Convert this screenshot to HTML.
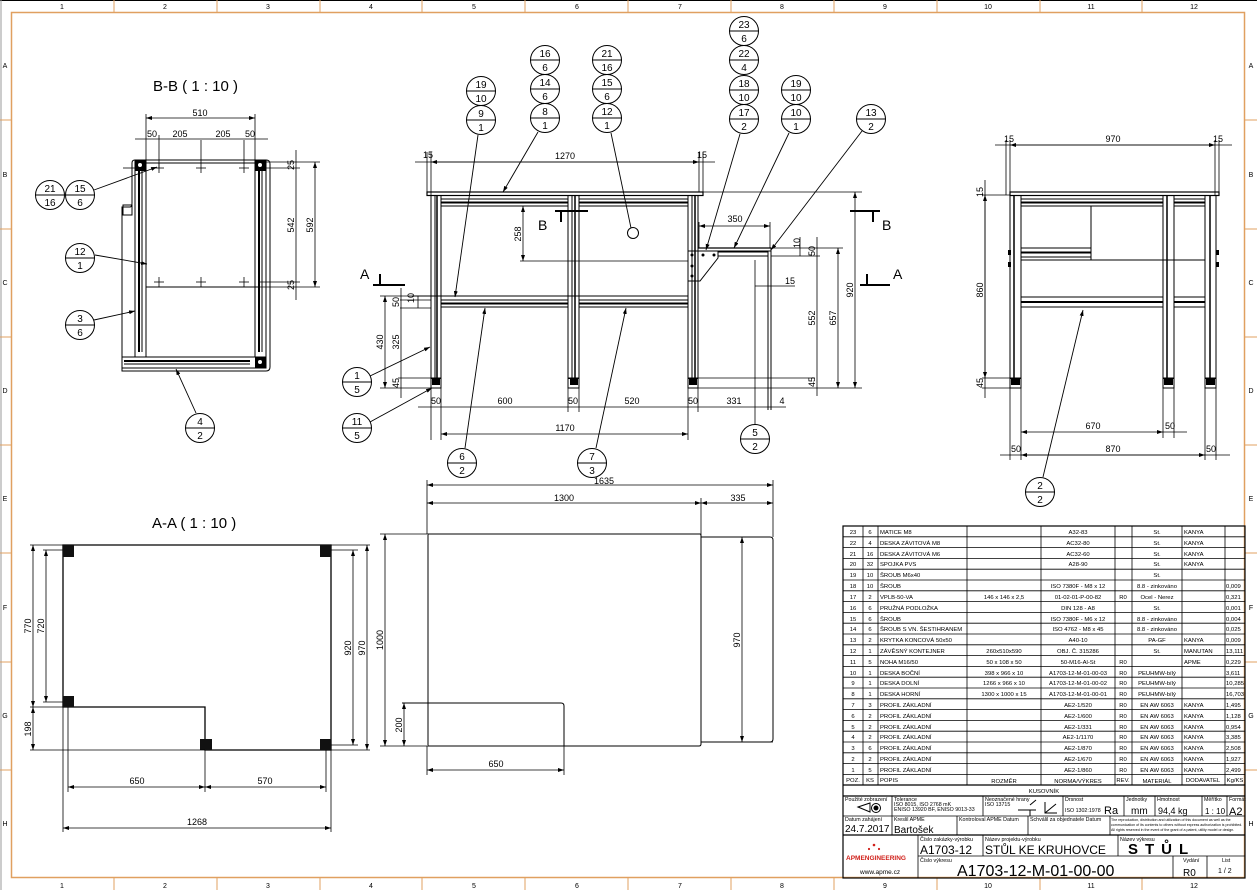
<!DOCTYPE html>
<html><head><meta charset="utf-8"><style>
html,body{margin:0;padding:0;background:#fff}
svg{display:block}
text{font-family:"Liberation Sans",sans-serif;fill:#000}
.d{font-size:9px}
.t{font-size:5.9px}
.s{font-size:5.3px}
.z{font-size:7px;fill:#bbb}
</style></head><body>
<svg width="1257" height="890" viewBox="0 0 1257 890" xmlns="http://www.w3.org/2000/svg">
<defs>
<marker id="a" markerWidth="6" markerHeight="4" refX="6" refY="2" orient="auto-start-reverse" markerUnits="userSpaceOnUse"><path d="M0,0L6,2L0,4z" fill="#000"/></marker>
</defs>
<rect width="1257" height="890" fill="#fff"/>
<!-- frame -->
<line x1="0" y1="0.5" x2="1257" y2="0.5" stroke="#000"/>
<line x1="1" y1="0" x2="1" y2="890" stroke="#999"/>
<rect x="11.5" y="12.5" width="1233" height="865" fill="none" stroke="#e0a060" stroke-width="1.5"/>
<g stroke="#e0a060" stroke-width="1">
<line x1="114" y1="0" x2="114" y2="12"/><line x1="217" y1="0" x2="217" y2="12"/><line x1="320" y1="0" x2="320" y2="12"/><line x1="422" y1="0" x2="422" y2="12"/><line x1="525" y1="0" x2="525" y2="12"/><line x1="628" y1="0" x2="628" y2="12"/><line x1="731" y1="0" x2="731" y2="12"/><line x1="834" y1="0" x2="834" y2="12"/><line x1="937" y1="0" x2="937" y2="12"/><line x1="1040" y1="0" x2="1040" y2="12"/><line x1="1142" y1="0" x2="1142" y2="12"/>
<line x1="114" y1="878" x2="114" y2="890"/><line x1="217" y1="878" x2="217" y2="890"/><line x1="320" y1="878" x2="320" y2="890"/><line x1="422" y1="878" x2="422" y2="890"/><line x1="525" y1="878" x2="525" y2="890"/><line x1="628" y1="878" x2="628" y2="890"/><line x1="731" y1="878" x2="731" y2="890"/><line x1="834" y1="878" x2="834" y2="890"/><line x1="937" y1="878" x2="937" y2="890"/><line x1="1040" y1="878" x2="1040" y2="890"/><line x1="1142" y1="878" x2="1142" y2="890"/>
<line x1="0" y1="120" x2="11" y2="120"/><line x1="0" y1="229" x2="11" y2="229"/><line x1="0" y1="337" x2="11" y2="337"/><line x1="0" y1="445" x2="11" y2="445"/><line x1="0" y1="553" x2="11" y2="553"/><line x1="0" y1="662" x2="11" y2="662"/><line x1="0" y1="770" x2="11" y2="770"/>
<line x1="1245" y1="120" x2="1257" y2="120"/><line x1="1245" y1="229" x2="1257" y2="229"/><line x1="1245" y1="337" x2="1257" y2="337"/><line x1="1245" y1="445" x2="1257" y2="445"/><line x1="1245" y1="553" x2="1257" y2="553"/><line x1="1245" y1="662" x2="1257" y2="662"/><line x1="1245" y1="770" x2="1257" y2="770"/>
</g>
<g class="z" text-anchor="middle">
<text x="62" y="9">1</text><text x="165" y="9">2</text><text x="268" y="9">3</text><text x="371" y="9">4</text><text x="474" y="9">5</text><text x="577" y="9">6</text><text x="680" y="9">7</text><text x="782" y="9">8</text><text x="885" y="9">9</text><text x="988" y="9">10</text><text x="1091" y="9">11</text><text x="1194" y="9">12</text>
<text x="62" y="888">1</text><text x="165" y="888">2</text><text x="268" y="888">3</text><text x="371" y="888">4</text><text x="474" y="888">5</text><text x="577" y="888">6</text><text x="680" y="888">7</text><text x="782" y="888">8</text><text x="885" y="888">9</text><text x="988" y="888">10</text><text x="1091" y="888">11</text><text x="1194" y="888">12</text>
<text x="5" y="68">A</text><text x="5" y="177">B</text><text x="5" y="285">C</text><text x="5" y="393">D</text><text x="5" y="501">E</text><text x="5" y="610">F</text><text x="5" y="718">G</text><text x="5" y="826">H</text>
<text x="1251" y="68">A</text><text x="1251" y="177">B</text><text x="1251" y="285">C</text><text x="1251" y="393">D</text><text x="1251" y="501">E</text><text x="1251" y="610">F</text><text x="1251" y="718">G</text><text x="1251" y="826">H</text>
</g>

<!-- ================= B-B view ================= -->
<text x="153" y="91" style="font-size:15px">B-B ( 1 : 10 )</text>
<g fill="none" stroke="#000" stroke-width="1">
<path d="M135,160 H266 Q270,160 270,164 V367 Q270,371 266,371 H122 V207 H130 Q132,207 132,203 V163 Q132,160 135,160Z"/>
<rect x="146" y="163" width="113" height="124"/>
<rect x="135" y="160" width="11" height="197"/><line x1="139" y1="165" x2="139" y2="352" stroke-width="2"/><line x1="142" y1="165" x2="142" y2="352"/>
<rect x="255" y="160" width="11" height="197"/><line x1="259" y1="165" x2="259" y2="352" stroke-width="2"/><line x1="262" y1="165" x2="262" y2="352"/>
<rect x="122" y="357" width="144" height="11"/><line x1="124" y1="361" x2="250" y2="361" stroke-width="2"/><line x1="124" y1="364" x2="250" y2="364"/>
<rect x="123" y="205" width="9" height="10"/>
</g>
<g fill="#000"><rect x="135" y="160" width="11" height="11"/><rect x="255" y="160" width="11" height="11"/><rect x="255" y="357" width="11" height="11"/></g>
<g fill="#fff"><circle cx="140" cy="165" r="2"/><circle cx="260" cy="165" r="2"/><circle cx="260" cy="362" r="2"/></g>
<g stroke="#000" stroke-width="0.8">
<line x1="123" y1="168" x2="134" y2="168"/><line x1="146" y1="168" x2="134" y2="168"/>
<line x1="154" y1="168" x2="164" y2="168"/><line x1="159" y1="163" x2="159" y2="173"/>
<line x1="196" y1="168" x2="206" y2="168"/><line x1="201" y1="140" x2="201" y2="173"/>
<line x1="239" y1="168" x2="249" y2="168"/><line x1="244" y1="140" x2="244" y2="173"/>
<line x1="154" y1="282" x2="164" y2="282"/><line x1="159" y1="277" x2="159" y2="287"/>
<line x1="196" y1="282" x2="206" y2="282"/><line x1="201" y1="277" x2="201" y2="287"/>
<line x1="239" y1="282" x2="249" y2="282"/><line x1="244" y1="277" x2="244" y2="287"/>
<line x1="146" y1="114" x2="146" y2="160"/><line x1="255" y1="114" x2="255" y2="160"/><line x1="159" y1="135" x2="159" y2="168"/>
<line x1="146" y1="118" x2="255" y2="118" marker-start="url(#a)" marker-end="url(#a)"/>
<line x1="135" y1="139" x2="268" y2="139"/>
<line x1="266" y1="162" x2="320" y2="162"/><line x1="266" y1="168" x2="300" y2="168"/><line x1="259" y1="282" x2="300" y2="282"/><line x1="259" y1="287" x2="320" y2="287"/>
<line x1="296" y1="150" x2="296" y2="300"/>
<line x1="315" y1="162" x2="315" y2="287" marker-start="url(#a)" marker-end="url(#a)"/>
</g>
<g class="d" text-anchor="middle"><text x="200" y="116">510</text><text x="152" y="137">50</text><text x="180" y="137">205</text><text x="223" y="137">205</text><text x="250" y="137">50</text></g>
<g class="d" text-anchor="middle"><text transform="translate(294,225) rotate(-90)">542</text><text transform="translate(313,225) rotate(-90)">592</text><text transform="translate(294,165) rotate(-90)">25</text><text transform="translate(294,285) rotate(-90)">25</text></g>

<!-- ================= Front view ================= -->
<g fill="none" stroke="#000" stroke-width="1">
<rect x="427" y="192" width="276" height="3.5" stroke-width="1.2"/>
<rect x="431" y="195.5" width="10" height="183"/><line x1="435" y1="196" x2="435" y2="378"/><line x1="437" y1="196" x2="437" y2="378" stroke-width="1.5"/>
<rect x="568" y="195.5" width="11" height="183"/><line x1="572" y1="196" x2="572" y2="378"/><line x1="575" y1="196" x2="575" y2="378" stroke-width="1.5"/>
<rect x="688" y="195.5" width="10" height="183"/><line x1="692" y1="196" x2="692" y2="378"/><line x1="695" y1="196" x2="695" y2="378" stroke-width="1.5"/>
<rect x="441" y="199" width="127" height="7"/><line x1="441" y1="202.5" x2="568" y2="202.5" stroke-width="2"/>
<rect x="579" y="199" width="109" height="7"/><line x1="579" y1="202.5" x2="688" y2="202.5" stroke-width="2"/>
<rect x="441" y="300" width="127" height="7"/><line x1="441" y1="303.5" x2="568" y2="303.5" stroke-width="2"/>
<rect x="579" y="300" width="109" height="7"/><line x1="579" y1="303.5" x2="688" y2="303.5" stroke-width="2"/>
<line x1="412" y1="296" x2="688" y2="296"/>
<rect x="431" y="378" width="10" height="10"/><rect x="568" y="378" width="11" height="10"/><rect x="688" y="378" width="10" height="10"/>
<line x1="698" y1="248" x2="771" y2="248" stroke-width="1.2"/><line x1="698" y1="251" x2="771" y2="251"/>
<rect x="718" y="252" width="50" height="4"/>
<path d="M688,251 H718 V258 L700,281 H688" />
<line x1="768" y1="251" x2="768" y2="410"/><line x1="771" y1="248" x2="771" y2="410"/>
<circle cx="633" cy="233" r="5.5"/>
</g>
<g fill="#000"><circle cx="692" cy="255" r="1.5"/><circle cx="703" cy="255" r="1.5"/><circle cx="714" cy="255" r="1.5"/><circle cx="692" cy="266" r="1.5"/><circle cx="692" cy="276" r="1.5"/>
<rect x="432" y="379" width="8" height="6"/><rect x="570" y="379" width="8" height="6"/><rect x="689" y="379" width="8" height="6"/></g>
<!-- front dims -->
<g stroke="#000" stroke-width="0.8" fill="none">
<line x1="427" y1="152" x2="427" y2="192"/><line x1="431" y1="152" x2="431" y2="195"/><line x1="699" y1="152" x2="699" y2="192"/><line x1="703" y1="152" x2="703" y2="192"/>
<line x1="415" y1="162" x2="715" y2="162"/><line x1="431" y1="162" x2="699" y2="162" marker-start="url(#a)" marker-end="url(#a)"/>
<line x1="523" y1="206" x2="523" y2="261" marker-start="url(#a)" marker-end="url(#a)"/><line x1="520" y1="261" x2="688" y2="261"/>
<line x1="699" y1="222" x2="699" y2="248"/><line x1="699" y1="226" x2="770" y2="226" marker-start="url(#a)" marker-end="url(#a)"/><line x1="770" y1="222" x2="770" y2="248"/>
<line x1="703" y1="192" x2="862" y2="192"/><line x1="771" y1="248" x2="843" y2="248"/><line x1="771" y1="256" x2="820" y2="256"/>
<line x1="698" y1="378" x2="815" y2="378"/><line x1="698" y1="388" x2="862" y2="388"/>
<line x1="855" y1="192" x2="855" y2="388" marker-start="url(#a)" marker-end="url(#a)"/>
<line x1="838" y1="248" x2="838" y2="388" marker-start="url(#a)" marker-end="url(#a)"/>
<line x1="817" y1="237" x2="817" y2="396"/>
<line x1="800" y1="237" x2="800" y2="256"/>
<line x1="755" y1="286" x2="795" y2="286"/><line x1="755" y1="260" x2="755" y2="425"/>
<line x1="418" y1="296" x2="418" y2="308"/><line x1="416" y1="296" x2="431" y2="296"/><line x1="400" y1="308" x2="431" y2="308"/><line x1="400" y1="300" x2="431" y2="300"/>
<line x1="385" y1="296" x2="385" y2="388" marker-start="url(#a)" marker-end="url(#a)"/><line x1="380" y1="296" x2="431" y2="296"/>
<line x1="401" y1="288" x2="401" y2="398"/>
<line x1="398" y1="378" x2="431" y2="378"/><line x1="380" y1="388" x2="431" y2="388"/>
<line x1="431" y1="388" x2="431" y2="440"/><line x1="441" y1="388" x2="441" y2="440"/><line x1="568" y1="388" x2="568" y2="412"/><line x1="579" y1="388" x2="579" y2="412"/><line x1="688" y1="388" x2="688" y2="440"/><line x1="698" y1="388" x2="698" y2="412"/>
<line x1="418" y1="407" x2="786" y2="407"/>
<line x1="441" y1="434" x2="688" y2="434" marker-start="url(#a)" marker-end="url(#a)"/>
</g>
<g class="d" text-anchor="middle">
<text x="565" y="159">1270</text><text x="428" y="158">15</text><text x="702" y="158">15</text>
<text x="735" y="222">350</text><text x="790" y="284">15</text>
<text x="436" y="404">50</text><text x="505" y="404">600</text><text x="573" y="404">50</text><text x="632" y="404">520</text><text x="693" y="404">50</text><text x="734" y="404">331</text><text x="782" y="404">4</text>
<text x="565" y="431">1170</text>
<text transform="translate(521,234) rotate(-90)">258</text>
<text transform="translate(853,290) rotate(-90)">920</text>
<text transform="translate(836,318) rotate(-90)">657</text>
<text transform="translate(815,318) rotate(-90)">552</text>
<text transform="translate(815,251) rotate(-90)">50</text><text transform="translate(800,243) rotate(-90)">10</text>
<text transform="translate(815,382) rotate(-90)">45</text>
<text transform="translate(383,342) rotate(-90)">430</text>
<text transform="translate(399,342) rotate(-90)">325</text>
<text transform="translate(399,302) rotate(-90)">50</text><text transform="translate(414,298) rotate(-90)">10</text>
<text transform="translate(399,383) rotate(-90)">45</text>
</g>
<!-- section markers -->
<g stroke="#000" fill="none"><path d="M555,211 H588 M561,211 V222" stroke-width="2"/><path d="M850,211 H880 M873,211 V222" stroke-width="2"/>
<path d="M373,285 H405 M380,285 V274" stroke-width="2"/><path d="M860,285 H890 M867,285 V274" stroke-width="2"/></g>
<g style="font-size:14px"><text x="538" y="230">B</text><text x="882" y="230">B</text><text x="360" y="279">A</text><text x="893" y="279">A</text></g>

<!-- ================= Side view ================= -->
<g fill="none" stroke="#000" stroke-width="1">
<rect x="1010" y="192" width="209" height="3.5" stroke-width="1.2"/>
<rect x="1010" y="195.5" width="11" height="183"/><line x1="1014" y1="196" x2="1014" y2="378" stroke-width="1.5"/>
<rect x="1163" y="195.5" width="11" height="183"/><line x1="1167" y1="196" x2="1167" y2="378" stroke-width="1.5"/>
<rect x="1205" y="195.5" width="11" height="183"/><line x1="1210" y1="196" x2="1210" y2="378" stroke-width="1.5"/>
<rect x="1021" y="199" width="142" height="7"/><line x1="1021" y1="202.5" x2="1163" y2="202.5" stroke-width="2"/>
<rect x="1174" y="199" width="31" height="7"/><line x1="1174" y1="202.5" x2="1205" y2="202.5" stroke-width="2"/>
<rect x="1021" y="206" width="70" height="54"/><line x1="1091" y1="260" x2="1205" y2="260"/>
<rect x="1021" y="248" width="70" height="9"/><line x1="1021" y1="252.5" x2="1091" y2="252.5" stroke-width="2"/>
<rect x="1021" y="297" width="142" height="10"/><line x1="1021" y1="302" x2="1163" y2="302" stroke-width="2"/>
<rect x="1174" y="297" width="31" height="10"/><line x1="1174" y1="302" x2="1205" y2="302" stroke-width="2"/>
<rect x="1010" y="378" width="11" height="10"/><rect x="1163" y="378" width="11" height="10"/><rect x="1205" y="378" width="11" height="10"/>
</g>
<g fill="#000"><rect x="1011" y="379" width="9" height="6"/><rect x="1164" y="379" width="9" height="6"/><rect x="1206" y="379" width="9" height="6"/>
<rect x="1008" y="250" width="3" height="5"/><rect x="1008" y="262" width="3" height="5"/><rect x="1216" y="250" width="3" height="5"/><rect x="1216" y="262" width="3" height="5"/></g>
<g stroke="#000" stroke-width="0.8" fill="none">
<line x1="1010" y1="140" x2="1010" y2="192"/><line x1="1219" y1="140" x2="1219" y2="192"/><line x1="1006" y1="140" x2="1006" y2="195"/><line x1="1215" y1="140" x2="1215" y2="195"/>
<line x1="995" y1="145" x2="1232" y2="145"/><line x1="1010" y1="145" x2="1215" y2="145" marker-start="url(#a)" marker-end="url(#a)"/>
<line x1="985" y1="180" x2="985" y2="398"/><line x1="985" y1="195" x2="985" y2="378" marker-start="url(#a)" marker-end="url(#a)"/>
<line x1="982" y1="195" x2="1010" y2="195"/><line x1="982" y1="378" x2="1010" y2="378"/><line x1="982" y1="388" x2="1010" y2="388"/>
<line x1="1010" y1="388" x2="1010" y2="460"/><line x1="1021" y1="388" x2="1021" y2="460"/><line x1="1163" y1="388" x2="1163" y2="438"/><line x1="1174" y1="388" x2="1174" y2="438"/><line x1="1205" y1="388" x2="1205" y2="460"/><line x1="1216" y1="388" x2="1216" y2="460"/>
<line x1="1021" y1="432" x2="1163" y2="432" marker-start="url(#a)" marker-end="url(#a)"/><line x1="1163" y1="432" x2="1187" y2="432"/>
<line x1="1000" y1="455" x2="1230" y2="455"/><line x1="1021" y1="455" x2="1205" y2="455" marker-start="url(#a)" marker-end="url(#a)"/>
</g>
<g class="d" text-anchor="middle">
<text x="1113" y="142">970</text><text x="1009" y="142">15</text><text x="1218" y="142">15</text>
<text x="1093" y="429">670</text><text x="1170" y="429">50</text>
<text x="1016" y="452">50</text><text x="1113" y="452">870</text><text x="1211" y="452">50</text>
<text transform="translate(983,290) rotate(-90)">860</text>
<text transform="translate(983,192) rotate(-90)">15</text>
<text transform="translate(983,383) rotate(-90)">45</text>
</g>

<!-- ================= A-A view ================= -->
<text x="152" y="528" style="font-size:15px">A-A ( 1 : 10 )</text>
<path d="M63,545 H331 V750 H205 V707 H63 Z" fill="none" stroke="#000" stroke-width="1.3"/>
<g fill="#111"><rect x="63" y="545" width="11" height="12"/><rect x="320" y="545" width="11" height="12"/><rect x="63" y="696" width="11" height="11"/><rect x="200" y="739" width="12" height="11"/><rect x="320" y="739" width="11" height="11"/></g>
<g stroke="#000" stroke-width="0.8" fill="none">
<line x1="30" y1="545" x2="63" y2="545"/><line x1="43" y1="550" x2="63" y2="550"/><line x1="30" y1="707" x2="63" y2="707"/><line x1="30" y1="750" x2="205" y2="750"/><line x1="43" y1="702" x2="63" y2="702"/>
<line x1="33" y1="545" x2="33" y2="707" marker-start="url(#a)" marker-end="url(#a)"/>
<line x1="46" y1="550" x2="46" y2="702" marker-start="url(#a)" marker-end="url(#a)"/>
<line x1="33" y1="707" x2="33" y2="750" marker-start="url(#a)" marker-end="url(#a)"/>
<line x1="331" y1="550" x2="358" y2="550"/><line x1="331" y1="745" x2="358" y2="745"/><line x1="331" y1="545" x2="370" y2="545"/><line x1="331" y1="750" x2="370" y2="750"/>
<line x1="353" y1="550" x2="353" y2="745" marker-start="url(#a)" marker-end="url(#a)"/>
<line x1="367" y1="545" x2="367" y2="750" marker-start="url(#a)" marker-end="url(#a)"/>
<line x1="68" y1="707" x2="68" y2="792"/><line x1="205" y1="750" x2="205" y2="792"/><line x1="326" y1="750" x2="326" y2="792"/>
<line x1="63" y1="707" x2="63" y2="832"/><line x1="331" y1="750" x2="331" y2="832"/>
<line x1="68" y1="787" x2="205" y2="787" marker-start="url(#a)" marker-end="url(#a)"/>
<line x1="205" y1="787" x2="326" y2="787" marker-start="url(#a)" marker-end="url(#a)"/>
<line x1="63" y1="828" x2="331" y2="828" marker-start="url(#a)" marker-end="url(#a)"/>
</g>
<g class="d" text-anchor="middle">
<text x="137" y="784">650</text><text x="265" y="784">570</text><text x="197" y="825">1268</text>
<text transform="translate(31,626) rotate(-90)">770</text><text transform="translate(44,626) rotate(-90)">720</text><text transform="translate(31,729) rotate(-90)">198</text>
<text transform="translate(351,648) rotate(-90)">920</text><text transform="translate(365,648) rotate(-90)">970</text>
</g>

<!-- ================= top plate view ================= -->
<g fill="none" stroke="#000" stroke-width="1">
<path d="M428,534 H700 Q701,534 701,536 V744 Q701,746 699,746 H428 V534 Z"/>
<path d="M701,537 H770 Q773,537 773,540 V739 Q773,742 770,742 H701"/>
<path d="M427,703 H561 Q564,703 564,706 V746"/>
<line x1="402" y1="703" x2="427" y2="703"/>
</g>
<g stroke="#000" stroke-width="0.8" fill="none">
<line x1="427" y1="480" x2="427" y2="534"/><line x1="773" y1="480" x2="773" y2="537"/><line x1="701" y1="498" x2="701" y2="537"/>
<line x1="427" y1="485" x2="773" y2="485" marker-start="url(#a)" marker-end="url(#a)"/>
<line x1="427" y1="503" x2="701" y2="503" marker-start="url(#a)" marker-end="url(#a)"/>
<line x1="701" y1="503" x2="773" y2="503" marker-start="url(#a)" marker-end="url(#a)"/>
<line x1="380" y1="534" x2="427" y2="534"/><line x1="380" y1="746" x2="427" y2="746"/>
<line x1="385" y1="534" x2="385" y2="746" marker-start="url(#a)" marker-end="url(#a)"/>
<line x1="404" y1="703" x2="404" y2="746" marker-start="url(#a)" marker-end="url(#a)"/>
<line x1="742" y1="537" x2="742" y2="742" marker-start="url(#a)" marker-end="url(#a)"/><line x1="773" y1="742" x2="748" y2="742"/>
<line x1="427" y1="746" x2="427" y2="775"/><line x1="564" y1="746" x2="564" y2="775"/>
<line x1="427" y1="770" x2="564" y2="770" marker-start="url(#a)" marker-end="url(#a)"/>
</g>
<g class="d" text-anchor="middle">
<text x="604" y="484">1635</text><text x="564" y="501">1300</text><text x="738" y="501">335</text><text x="496" y="767">650</text>
<text transform="translate(383,640) rotate(-90)">1000</text><text transform="translate(402,725) rotate(-90)">200</text><text transform="translate(740,640) rotate(-90)">970</text>
</g>

<!-- ================= leaders ================= -->
<g stroke="#000" stroke-width="0.9" fill="none">
<line x1="478" y1="135" x2="455" y2="297" marker-end="url(#a)"/>
<line x1="538" y1="132" x2="503" y2="192" marker-end="url(#a)"/>
<line x1="611" y1="133" x2="631" y2="228"/>
<line x1="740" y1="134" x2="706" y2="250" marker-end="url(#a)"/>
<line x1="789" y1="133" x2="734" y2="248" marker-end="url(#a)"/>
<line x1="862" y1="131" x2="771" y2="250" marker-end="url(#a)"/>
<line x1="94" y1="190" x2="157" y2="167" marker-end="url(#a)"/>
<line x1="95" y1="255" x2="147" y2="264" marker-end="url(#a)"/>
<line x1="94" y1="320" x2="135" y2="311" marker-end="url(#a)"/>
<line x1="196" y1="413" x2="176" y2="369" marker-end="url(#a)"/>
<line x1="370" y1="376" x2="430" y2="347" marker-end="url(#a)"/>
<line x1="370" y1="422" x2="432" y2="388" marker-end="url(#a)"/>
<line x1="465" y1="448" x2="485" y2="308" marker-end="url(#a)"/>
<line x1="596" y1="448" x2="626" y2="308" marker-end="url(#a)"/>
<line x1="1043" y1="477" x2="1083" y2="310" marker-end="url(#a)"/>
</g>
<!-- balloons -->
<g stroke="#000" stroke-width="1" fill="#fff">
<circle cx="481" cy="91" r="14.5"/><circle cx="481" cy="120" r="14.5"/>
<circle cx="545" cy="60" r="14.5"/><circle cx="545" cy="89" r="14.5"/><circle cx="545" cy="118" r="14.5"/>
<circle cx="607" cy="60" r="14.5"/><circle cx="607" cy="89" r="14.5"/><circle cx="607" cy="118" r="14.5"/>
<circle cx="744" cy="31" r="14.5"/><circle cx="744" cy="60" r="14.5"/><circle cx="744" cy="90" r="14.5"/><circle cx="744" cy="119" r="14.5"/>
<circle cx="796" cy="90" r="14.5"/><circle cx="796" cy="119" r="14.5"/>
<circle cx="871" cy="119" r="14.5"/>
<circle cx="50" cy="195" r="14.5"/><circle cx="80" cy="195" r="14.5"/>
<circle cx="80" cy="258" r="14.5"/><circle cx="80" cy="325" r="14.5"/><circle cx="200" cy="428" r="14.5"/>
<circle cx="357" cy="382" r="14.5"/><circle cx="357" cy="428" r="14.5"/>
<circle cx="462" cy="463" r="14.5"/><circle cx="592" cy="463" r="14.5"/><circle cx="755" cy="439" r="14.5"/>
<circle cx="1040" cy="492" r="14.5"/>
</g>
<g stroke="#000" stroke-width="1">
<line x1="466" y1="91" x2="496" y2="91"/><line x1="466" y1="120" x2="496" y2="120"/>
<line x1="530" y1="60" x2="560" y2="60"/><line x1="530" y1="89" x2="560" y2="89"/><line x1="530" y1="118" x2="560" y2="118"/>
<line x1="592" y1="60" x2="622" y2="60"/><line x1="592" y1="89" x2="622" y2="89"/><line x1="592" y1="118" x2="622" y2="118"/>
<line x1="729" y1="31" x2="759" y2="31"/><line x1="729" y1="60" x2="759" y2="60"/><line x1="729" y1="90" x2="759" y2="90"/><line x1="729" y1="119" x2="759" y2="119"/>
<line x1="781" y1="90" x2="811" y2="90"/><line x1="781" y1="119" x2="811" y2="119"/><line x1="856" y1="119" x2="886" y2="119"/>
<line x1="35" y1="195" x2="65" y2="195"/><line x1="65" y1="195" x2="95" y2="195"/>
<line x1="65" y1="258" x2="95" y2="258"/><line x1="65" y1="325" x2="95" y2="325"/><line x1="185" y1="428" x2="215" y2="428"/>
<line x1="342" y1="382" x2="372" y2="382"/><line x1="342" y1="428" x2="372" y2="428"/>
<line x1="447" y1="463" x2="477" y2="463"/><line x1="577" y1="463" x2="607" y2="463"/><line x1="740" y1="439" x2="770" y2="439"/>
<line x1="1025" y1="492" x2="1055" y2="492"/>
</g>
<g style="font-size:10px" text-anchor="middle">
<text x="481" y="88">19</text><text x="481" y="102">10</text><text x="481" y="117">9</text><text x="481" y="131">1</text>
<text x="545" y="57">16</text><text x="545" y="71">6</text><text x="545" y="86">14</text><text x="545" y="100">6</text><text x="545" y="115">8</text><text x="545" y="129">1</text>
<text x="607" y="57">21</text><text x="607" y="71">16</text><text x="607" y="86">15</text><text x="607" y="100">6</text><text x="607" y="115">12</text><text x="607" y="129">1</text>
<text x="744" y="28">23</text><text x="744" y="42">6</text><text x="744" y="57">22</text><text x="744" y="71">4</text><text x="744" y="87">18</text><text x="744" y="101">10</text><text x="744" y="116">17</text><text x="744" y="130">2</text>
<text x="796" y="87">19</text><text x="796" y="101">10</text><text x="796" y="116">10</text><text x="796" y="130">1</text>
<text x="871" y="116">13</text><text x="871" y="130">2</text>
<text x="50" y="192">21</text><text x="50" y="206">16</text><text x="80" y="192">15</text><text x="80" y="206">6</text>
<text x="80" y="255">12</text><text x="80" y="269">1</text><text x="80" y="322">3</text><text x="80" y="336">6</text>
<text x="200" y="425">4</text><text x="200" y="439">2</text>
<text x="357" y="379">1</text><text x="357" y="393">5</text><text x="357" y="425">11</text><text x="357" y="439">5</text>
<text x="462" y="460">6</text><text x="462" y="474">2</text><text x="592" y="460">7</text><text x="592" y="474">3</text>
<text x="755" y="436">5</text><text x="755" y="450">2</text><text x="1040" y="489">2</text><text x="1040" y="503">2</text>
</g>

<!-- ================= BOM ================= -->
<g stroke="#000" stroke-width="0.8" fill="none">
<rect x="843" y="526" width="402" height="352" stroke-width="1.2"/>
<line x1="863" y1="526" x2="863" y2="785"/><line x1="878" y1="526" x2="878" y2="785"/><line x1="967" y1="526" x2="967" y2="785"/><line x1="1041" y1="526" x2="1041" y2="785"/><line x1="1115" y1="526" x2="1115" y2="785"/><line x1="1132" y1="526" x2="1132" y2="785"/><line x1="1182" y1="526" x2="1182" y2="785"/><line x1="1225" y1="526" x2="1225" y2="785"/>
<line x1="843" y1="536.8" x2="1245" y2="536.8"/><line x1="843" y1="547.6" x2="1245" y2="547.6"/><line x1="843" y1="558.4" x2="1245" y2="558.4"/><line x1="843" y1="569.2" x2="1245" y2="569.2"/><line x1="843" y1="580" x2="1245" y2="580"/><line x1="843" y1="590.8" x2="1245" y2="590.8"/><line x1="843" y1="601.6" x2="1245" y2="601.6"/><line x1="843" y1="612.4" x2="1245" y2="612.4"/><line x1="843" y1="623.2" x2="1245" y2="623.2"/><line x1="843" y1="634" x2="1245" y2="634"/><line x1="843" y1="644.8" x2="1245" y2="644.8"/><line x1="843" y1="655.6" x2="1245" y2="655.6"/><line x1="843" y1="666.4" x2="1245" y2="666.4"/><line x1="843" y1="677.2" x2="1245" y2="677.2"/><line x1="843" y1="688" x2="1245" y2="688"/><line x1="843" y1="698.8" x2="1245" y2="698.8"/><line x1="843" y1="709.6" x2="1245" y2="709.6"/><line x1="843" y1="720.4" x2="1245" y2="720.4"/><line x1="843" y1="731.2" x2="1245" y2="731.2"/><line x1="843" y1="742" x2="1245" y2="742"/><line x1="843" y1="752.8" x2="1245" y2="752.8"/><line x1="843" y1="763.6" x2="1245" y2="763.6"/><line x1="843" y1="774.4" x2="1245" y2="774.4"/>
<line x1="843" y1="785" x2="1245" y2="785" stroke-width="1.2"/><line x1="843" y1="796" x2="1245" y2="796" stroke-width="1.2"/>
<line x1="843" y1="816" x2="1245" y2="816"/><line x1="843" y1="835" x2="1245" y2="835" stroke-width="1.2"/>
<line x1="892" y1="796" x2="892" y2="835"/><line x1="983" y1="796" x2="983" y2="816"/><line x1="1063" y1="796" x2="1063" y2="816"/><line x1="1124" y1="796" x2="1124" y2="816"/><line x1="1155" y1="796" x2="1155" y2="816"/><line x1="1202" y1="796" x2="1202" y2="816"/><line x1="1227" y1="796" x2="1227" y2="816"/>
<line x1="957" y1="816" x2="957" y2="835"/><line x1="1028" y1="816" x2="1028" y2="835"/><line x1="1110" y1="816" x2="1110" y2="835"/>
<line x1="918" y1="835" x2="918" y2="878"/><line x1="983" y1="835" x2="983" y2="856"/><line x1="1118" y1="835" x2="1118" y2="856"/><line x1="918" y1="856" x2="1245" y2="856"/><line x1="1173" y1="856" x2="1173" y2="878"/><line x1="1207" y1="856" x2="1207" y2="878"/>
</g>
<g class="t">
<g text-anchor="middle">
<text x="853" y="534">23</text><text x="853" y="545">22</text><text x="853" y="556">21</text><text x="853" y="566">20</text><text x="853" y="577">19</text><text x="853" y="588">18</text><text x="853" y="599">17</text><text x="853" y="610">16</text><text x="853" y="621">15</text><text x="853" y="631">14</text><text x="853" y="642">13</text><text x="853" y="653">12</text><text x="853" y="664">11</text><text x="853" y="675">10</text><text x="853" y="685">9</text><text x="853" y="696">8</text><text x="853" y="707">7</text><text x="853" y="718">6</text><text x="853" y="729">5</text><text x="853" y="739">4</text><text x="853" y="750">3</text><text x="853" y="761">2</text><text x="853" y="772">1</text><text x="853" y="782">POZ.</text>
<text x="870" y="534">6</text><text x="870" y="545">4</text><text x="870" y="556">16</text><text x="870" y="566">32</text><text x="870" y="577">10</text><text x="870" y="588">10</text><text x="870" y="599">2</text><text x="870" y="610">6</text><text x="870" y="621">6</text><text x="870" y="631">6</text><text x="870" y="642">2</text><text x="870" y="653">1</text><text x="870" y="664">5</text><text x="870" y="675">1</text><text x="870" y="685">1</text><text x="870" y="696">1</text><text x="870" y="707">3</text><text x="870" y="718">2</text><text x="870" y="729">2</text><text x="870" y="739">2</text><text x="870" y="750">6</text><text x="870" y="761">2</text><text x="870" y="772">5</text><text x="870" y="782">KS</text>
<text x="1004" y="599">146 x 146 x 2,5</text><text x="1004" y="653">260x510x590</text><text x="1004" y="664">50 x 108 x 50</text><text x="1004" y="675">398 x 966 x 10</text><text x="1004" y="685">1266 x 966 x 10</text><text x="1004" y="696">1300 x 1000 x 15</text><text x="1004" y="783">ROZMĚR</text>
<text x="1078" y="534">A32-83</text><text x="1078" y="545">AC32-80</text><text x="1078" y="556">AC32-60</text><text x="1078" y="566">A28-90</text><text x="1078" y="588">ISO 7380F - M8 x 12</text><text x="1078" y="599">01-02-01-P-00-82</text><text x="1078" y="610">DIN 128 - A8</text><text x="1078" y="621">ISO 7380F - M6 x 12</text><text x="1078" y="631">ISO 4762 - M8 x 45</text><text x="1078" y="642">A40-10</text><text x="1078" y="653">OBJ. Č. 315286</text><text x="1078" y="664">50-M16-Al-St</text><text x="1078" y="675">A1703-12-M-01-00-03</text><text x="1078" y="685">A1703-12-M-01-00-02</text><text x="1078" y="696">A1703-12-M-01-00-01</text><text x="1078" y="707">AE2-1/520</text><text x="1078" y="718">AE2-1/600</text><text x="1078" y="729">AE2-1/331</text><text x="1078" y="739">AE2-1/1170</text><text x="1078" y="750">AE2-1/870</text><text x="1078" y="761">AE2-1/670</text><text x="1078" y="772">AE2-1/860</text><text x="1078" y="783">NORMA/VÝKRES</text>
<text x="1123" y="599">R0</text><text x="1123" y="664">R0</text><text x="1123" y="675">R0</text><text x="1123" y="685">R0</text><text x="1123" y="696">R0</text><text x="1123" y="707">R0</text><text x="1123" y="718">R0</text><text x="1123" y="729">R0</text><text x="1123" y="739">R0</text><text x="1123" y="750">R0</text><text x="1123" y="761">R0</text><text x="1123" y="772">R0</text><text x="1123" y="782">REV.</text>
<text x="1157" y="534">St.</text><text x="1157" y="545">St.</text><text x="1157" y="556">St.</text><text x="1157" y="566">St.</text><text x="1157" y="577">St.</text><text x="1157" y="588">8.8 - zinkováno</text><text x="1157" y="599">Ocel - Nerez</text><text x="1157" y="610">St.</text><text x="1157" y="621">8.8 - zinkováno</text><text x="1157" y="631">8.8 - zinkováno</text><text x="1157" y="642">PA-GF</text><text x="1157" y="653">St.</text><text x="1157" y="675">PEUHMW-bílý</text><text x="1157" y="685">PEUHMW-bílý</text><text x="1157" y="696">PEUHMW-bílý</text><text x="1157" y="707">EN AW 6063</text><text x="1157" y="718">EN AW 6063</text><text x="1157" y="729">EN AW 6063</text><text x="1157" y="739">EN AW 6063</text><text x="1157" y="750">EN AW 6063</text><text x="1157" y="761">EN AW 6063</text><text x="1157" y="772">EN AW 6063</text><text x="1157" y="783">MATERIÁL</text>
<text x="1203" y="782">DODAVATEL</text><text x="1235" y="782">Kg/KS</text>
<text x="1044" y="793">KUSOVNÍK</text>
</g>
<text x="880" y="534">MATICE M8</text><text x="880" y="545">DESKA ZÁVITOVÁ M8</text><text x="880" y="556">DESKA ZÁVITOVÁ M6</text><text x="880" y="566">SPOJKA PVS</text><text x="880" y="577">ŠROUB M6x40</text><text x="880" y="588">ŠROUB</text><text x="880" y="599">VPLB-50-VA</text><text x="880" y="610">PRUŽNÁ PODLOŽKA</text><text x="880" y="621">ŠROUB</text><text x="880" y="631">ŠROUB S VN. ŠESTIHRANEM</text><text x="880" y="642">KRYTKA KONCOVÁ 50x50</text><text x="880" y="653">ZÁVĚSNÝ KONTEJNER</text><text x="880" y="664">NOHA M16/50</text><text x="880" y="675">DESKA BOČNÍ</text><text x="880" y="685">DESKA DOLNÍ</text><text x="880" y="696">DESKA HORNÍ</text><text x="880" y="707">PROFIL ZÁKLADNÍ</text><text x="880" y="718">PROFIL ZÁKLADNÍ</text><text x="880" y="729">PROFIL ZÁKLADNÍ</text><text x="880" y="739">PROFIL ZÁKLADNÍ</text><text x="880" y="750">PROFIL ZÁKLADNÍ</text><text x="880" y="761">PROFIL ZÁKLADNÍ</text><text x="880" y="772">PROFIL ZÁKLADNÍ</text><text x="880" y="782">POPIS</text>
<text x="1184" y="534">KANYA</text><text x="1184" y="545">KANYA</text><text x="1184" y="556">KANYA</text><text x="1184" y="566">KANYA</text><text x="1184" y="642">KANYA</text><text x="1184" y="653">MANUTAN</text><text x="1184" y="664">APME</text><text x="1184" y="707">KANYA</text><text x="1184" y="718">KANYA</text><text x="1184" y="729">KANYA</text><text x="1184" y="739">KANYA</text><text x="1184" y="750">KANYA</text><text x="1184" y="761">KANYA</text><text x="1184" y="772">KANYA</text>
<text x="1226" y="588">0,009</text><text x="1226" y="599">0,321</text><text x="1226" y="610">0,001</text><text x="1226" y="621">0,004</text><text x="1226" y="631">0,025</text><text x="1226" y="642">0,009</text><text x="1226" y="653">13,111</text><text x="1226" y="664">0,229</text><text x="1226" y="675">3,611</text><text x="1226" y="685">10,285</text><text x="1226" y="696">16,703</text><text x="1226" y="707">1,495</text><text x="1226" y="718">1,128</text><text x="1226" y="729">0,954</text><text x="1226" y="739">3,385</text><text x="1226" y="750">2,508</text><text x="1226" y="761">1,927</text><text x="1226" y="772">2,499</text>
</g>
<!-- title block text -->
<g class="s">
<text x="845" y="801">Použité zobrazení</text><text x="894" y="801">Tolerance</text><text x="894" y="806">ISO 8015, ISO 2768 mK</text><text x="894" y="811">ENISO 13920 BF, ENISO 9013-33</text>
<text x="985" y="801">Neoznačené hrany</text><text x="985" y="806">ISO 13715</text>
<text x="1065" y="801">Drsnost</text><text x="1065" y="812">ISO 1302:1978</text>
<text x="1126" y="801">Jednotky</text><text x="1157" y="801">Hmotnost</text><text x="1204" y="801">Měřítko</text><text x="1229" y="801">Formát</text>
<text x="845" y="821">Datum zahájení</text><text x="894" y="821">Kreslil APME</text><text x="959" y="821">Kontroloval APME   Datum</text><text x="1030" y="821">Schválil za objednatele    Datum</text>
<text x="1111" y="821" style="font-size:3.6px">The reproduction, distribution and utilization of this document as well as the</text>
<text x="1111" y="826" style="font-size:3.6px">communication of its contents to others without express authorization is prohibited.</text>
<text x="1111" y="831" style="font-size:3.6px">All rights reserved in the event of the grant of a patent, utility model or design.</text>
<text x="920" y="841">Číslo zakázky-výrobku</text><text x="985" y="841">Název projektu-výrobku</text><text x="1120" y="841">Název výkresu</text>
<text x="920" y="862">Číslo výkresu</text><text x="1183" y="862">Vydání</text><text x="1222" y="862">List</text>
</g>
<g style="font-size:10px">
<text x="845" y="832">24.7.2017</text><text x="894" y="833">Bartošek</text>
<text x="920" y="854" style="font-size:12px">A1703-12</text><text x="985" y="854" style="font-size:12px">STŮL KE KRUHOVCE</text>
<text x="1128" y="854" style="font-size:15px;font-weight:bold;letter-spacing:7px">STŮL</text>
<text x="957" y="876" style="font-size:16px">A1703-12-M-01-00-00</text>
<text x="1183" y="876">R0</text><text x="1218" y="873" style="font-size:7px">1 / 2</text>
<text x="1131" y="814">mm</text><text x="1158" y="814" style="font-size:9px">94,4 kg</text><text x="1205" y="814" style="font-size:8px">1 : 10</text><text x="1229" y="815" style="font-size:11px">A2</text>
<text x="1104" y="814" style="font-size:11px">Ra</text>
<text x="846" y="860" style="font-size:6.5px;fill:#d0201a;font-weight:bold">APMENGINEERING</text>
<text x="860" y="874" style="font-size:6.5px">www.apme.cz</text>
</g>
<g stroke="#000" fill="none" stroke-width="1">
<path d="M858,807 L870,803 V812 Z"/><circle cx="876" cy="808" r="4.5"/><circle cx="876" cy="808" r="2" fill="#000"/>
<path d="M1018,810 H1036 M1030,810 V816 M1030,805 L1036,800"/><path d="M1045,802 V813 H1057 M1045,813 L1056,804"/>
</g>
<g fill="#d0201a"><circle cx="874" cy="845" r="1.3"/><circle cx="869" cy="849" r="1.1"/><circle cx="879" cy="849" r="1.1"/></g>
</svg>
</body></html>
